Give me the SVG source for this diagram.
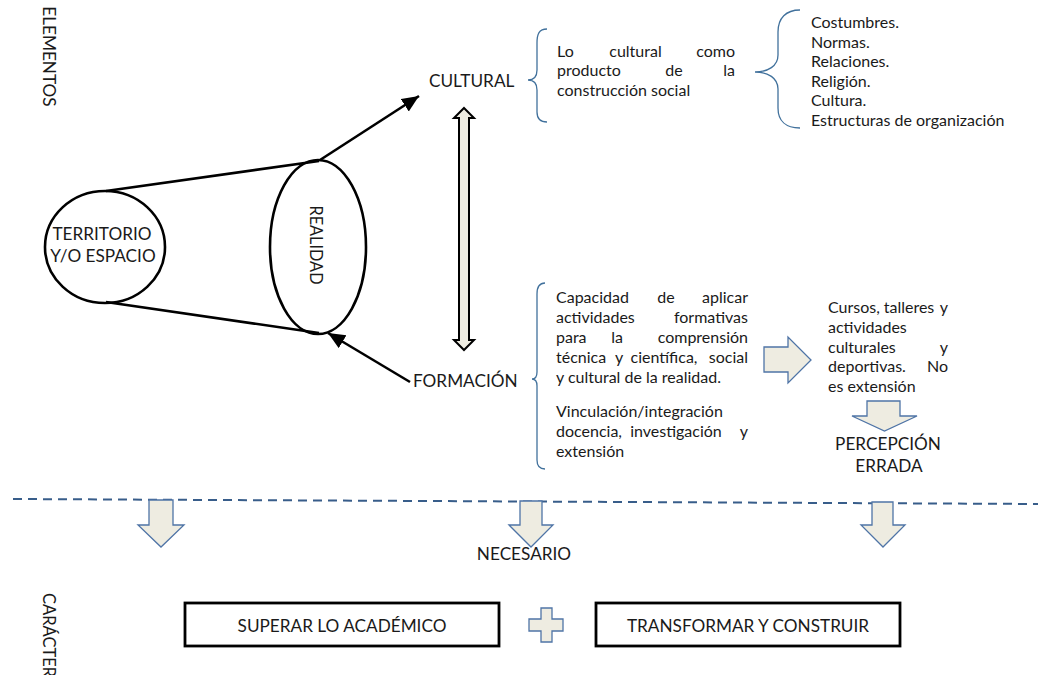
<svg xmlns="http://www.w3.org/2000/svg" width="1038" height="675" viewBox="0 0 1038 675">
<style>
text { font-family: Lato, "Liberation Sans", sans-serif; fill: #1a1a1a; }
.lbl { font-size: 17.2px; }
.body { font-size: 16px; }
.mid { text-anchor: middle; }
.end { text-anchor: end; }
.shape { fill: none; stroke: #000; stroke-width: 2.6; }
.conn { fill: none; stroke: #000; stroke-width: 2.6; }
.brace { fill: none; stroke: #41719c; stroke-width: 1.3; }
.block { fill: #eeece1; stroke: #4f74a6; stroke-width: 1.3; stroke-linejoin: miter; }
.box { fill: #fff; stroke: #000; stroke-width: 2.8; }
</style>
<defs>
<marker id="ah" markerUnits="userSpaceOnUse" markerWidth="20" markerHeight="16" refX="17" refY="7.5" orient="auto">
<path d="M0,0 L17,7.5 L0,15 Z" fill="#000"/>
</marker>
</defs>

<g id="title-elementos">
<text class="lbl" text-anchor="middle" transform="translate(43,56.5) rotate(90)">ELEMENTOS</text>
</g>

<g id="connectors">
<line class="conn" x1="106" y1="191" x2="319" y2="161"/>
<line class="conn" x1="106" y1="302" x2="319" y2="333"/>
<line class="conn" x1="320" y1="160" x2="419" y2="96" marker-end="url(#ah)"/>
<line class="conn" x1="410" y1="382" x2="328" y2="333" marker-end="url(#ah)"/>
<polygon class="block" style="stroke:#000;stroke-width:2" points="464,108 474,118 469,118 469,340 474,340 464,350 454,340 459,340 459,118 454,118"/>
<polygon id="arrow-right" class="block" points="764,347 788,347 788,337 811,360 788,383 788,372 764,372"/>
<polygon id="arrow-percepcion" class="block" points="867,401 900,401 900,416 917,416 884.5,431 852,416 867,416"/>
<line x1="13" y1="499" x2="1038" y2="504" stroke="#385d8a" stroke-width="2" stroke-dasharray="9 6"/>
<polygon class="block" points="149,500 173,500 173,525 184,525 161,547 138,525 149,525"/>
<polygon class="block" points="520,501 542,501 542,525 553,525 531,547 509,525 520,525"/>
<polygon class="block" points="872,502 893,502 893,525 905,525 883,547 861,525 872,525"/>
</g>

<g id="node-territorio">
<ellipse class="shape" cx="105" cy="247" rx="60" ry="56"/>
<text class="lbl mid" x="102" y="240">TERRITORIO</text>
<text class="lbl mid" x="103" y="262">Y/O ESPACIO</text>
</g>

<g id="node-realidad">
<ellipse class="shape" cx="318" cy="247" rx="48" ry="87"/>
<text style="font-size:16.3px" text-anchor="middle" transform="translate(310,245) rotate(90)">REALIDAD</text>
</g>

<g id="node-cultural">
<text class="lbl" x="429" y="87">CULTURAL</text>
<path class="brace" d="M547,29 C539,29 537,34 537,43 L537,70 C537,77 534,80 528,80 C534,80 537,83 537,90 L537,112 C537,119 540,122 547,122"/>
<text class="body" y="56.5"><tspan x="557">Lo</tspan><tspan x="635.5" text-anchor="middle">cultural</tspan><tspan x="735" text-anchor="end">como</tspan></text>
<text class="body" y="76"><tspan x="557">producto</tspan><tspan x="674" text-anchor="middle">de</tspan><tspan x="735" text-anchor="end">la</tspan></text>
<text class="body" x="557" y="95.5">construcción social</text>
</g>

<g id="node-lista">
<path class="brace" d="M800,10 C786,10 778,18 778,32 L778,55 C778,66 768,72 755,72 C768,72 778,78 778,89 L778,108 C778,121 786,128 800,128"/>
<text class="body" x="811" y="28">Costumbres.</text>
<text class="body" x="811" y="47.5">Normas.</text>
<text class="body" x="811" y="67">Relaciones.</text>
<text class="body" x="811" y="86.5">Religión.</text>
<text class="body" x="811" y="106">Cultura.</text>
<text class="body" x="811" y="125.5">Estructuras de organización</text>
</g>

<g id="node-formacion">
<text class="lbl" x="413" y="387">FORMACIÓN</text>
<path class="brace" d="M545,283 C539,283 537,287 537,294 L537,372 C537,377 535,379 532,379 C535,379 537,381 537,386 L537,460 C537,466 539,469 545,469"/>
<text class="body" y="303"><tspan x="556">Capacidad</tspan><tspan x="666" text-anchor="middle">de</tspan><tspan x="748" text-anchor="end">aplicar</tspan></text>
<text class="body" y="323"><tspan x="556">actividades</tspan><tspan x="748" text-anchor="end">formativas</tspan></text>
<text class="body" y="343"><tspan x="556">para</tspan><tspan x="617" text-anchor="middle">la</tspan><tspan x="748" text-anchor="end">comprensión</tspan></text>
<text class="body" y="363"><tspan x="556">técnica</tspan><tspan x="619" text-anchor="middle">y</tspan><tspan x="664" text-anchor="middle">científica,</tspan><tspan x="748" text-anchor="end">social</tspan></text>
<text class="body" x="556" y="383">y cultural de la realidad.</text>
<text class="body" x="556" y="417">Vinculación/integración</text>
<text class="body" y="437"><tspan x="556">docencia,</tspan><tspan x="676" text-anchor="middle">investigación</tspan><tspan x="748" text-anchor="end">y</tspan></text>
<text class="body" x="556" y="457">extensión</text>
</g>

<g id="node-cursos">
<text class="body" y="313"><tspan x="828">Cursos,</tspan><tspan x="909" text-anchor="middle">talleres</tspan><tspan x="948" text-anchor="end">y</tspan></text>
<text class="body" x="828" y="333">actividades</text>
<text class="body" y="353"><tspan x="828">culturales</tspan><tspan x="948" text-anchor="end">y</tspan></text>
<text class="body" y="372"><tspan x="828">deportivas.</tspan><tspan x="948" text-anchor="end">No</tspan></text>
<text class="body" x="828" y="392">es extensión</text>
</g>

<g id="node-percepcion">
<text class="lbl mid" x="888" y="450">PERCEPCIÓN</text>
<text class="lbl mid" x="889" y="472">ERRADA</text>
</g>

<g id="node-necesario">
<text class="lbl mid" x="524" y="560">NECESARIO</text>
</g>

<g id="title-caracter">
<text style="font-size:16.5px" transform="translate(43,593) rotate(90)">CARÁCTER</text>
</g>

<g id="node-superar">
<rect class="box" x="185" y="603" width="314" height="43"/>
<text class="lbl mid" x="342" y="632">SUPERAR LO ACADÉMICO</text>
</g>

<g id="node-plus">
<polygon class="block" points="541,608 552,608 552,619 563,619 563,631 552,631 552,642 541,642 541,631 529,631 529,619 541,619"/>
</g>

<g id="node-transformar">
<rect class="box" x="596" y="603" width="304" height="43"/>
<text class="lbl mid" x="748" y="632">TRANSFORMAR Y CONSTRUIR</text>
</g>
</svg>
